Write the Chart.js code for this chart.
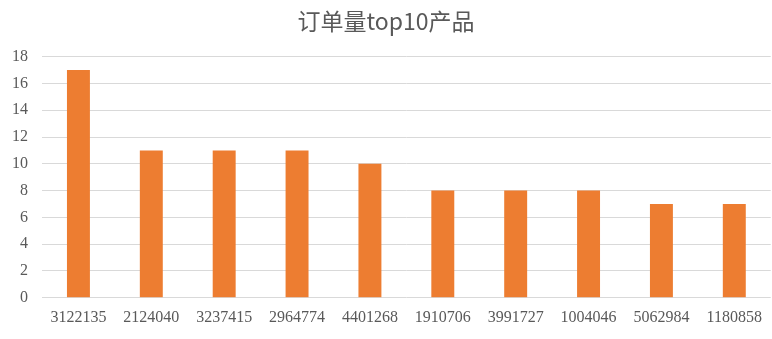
<!DOCTYPE html>
<html>
<head>
<meta charset="utf-8">
<script src="https://cdn.jsdelivr.net/npm/chart.js@4"></script>
<style>
  html, body { margin: 0; padding: 0; background: #fff; }
  #wrap { width: 772px; height: 339px; }
</style>
</head>
<body>
<div id="wrap"><canvas id="chart"></canvas></div>
<script>
const products = ['3122135', '2124040', '3237415', '2964774', '4401268', '1910706', '3991727', '1004046', '5062984', '1180858'];
const orderCounts = [17, 11, 11, 11, 10, 8, 8, 8, 7, 7];
const titleText = '订单量top10产品';

const fontFamily = '"Liberation Serif", "Noto Sans CJK SC", serif';

new Chart(document.getElementById('chart').getContext('2d'), {
    type: 'bar',
    data: {
        labels: products,
        datasets: [{
            label: '订单量',
            data: orderCounts,
            backgroundColor: '#ED7D31',
            categoryPercentage: 1,
            barPercentage: 0.315
        }]
    },
    options: {
        responsive: true,
        maintainAspectRatio: false,
        animation: false,
        layout: { padding: { left: 0, right: 0, top: 7, bottom: 2 } },
        plugins: {
            legend: { display: false },
            tooltip: { enabled: false },
            title: {
                display: true,
                text: titleText,
                color: '#595959',
                font: { family: '"Noto Sans CJK SC", serif', size: 23, weight: 'normal' },
                padding: { top: 0, bottom: 22 }
            }
        },
        scales: {
            x: {
                grid: { display: false, drawTicks: false },
                border: { display: false },
                ticks: {
                    color: '#595959',
                    font: { family: fontFamily, size: 16 },
                    padding: 10,
                    maxRotation: 0
                }
            },
            y: {
                min: 0,
                max: 18,
                afterFit: (axis) => { axis.width = 42; },
                grid: { color: '#d9d9d9', drawTicks: false },
                border: { display: false },
                ticks: {
                    stepSize: 2,
                    color: '#595959',
                    font: { family: fontFamily, size: 16 },
                    padding: 14
                }
            }
        }
    }
});
</script>
</body>
</html>
